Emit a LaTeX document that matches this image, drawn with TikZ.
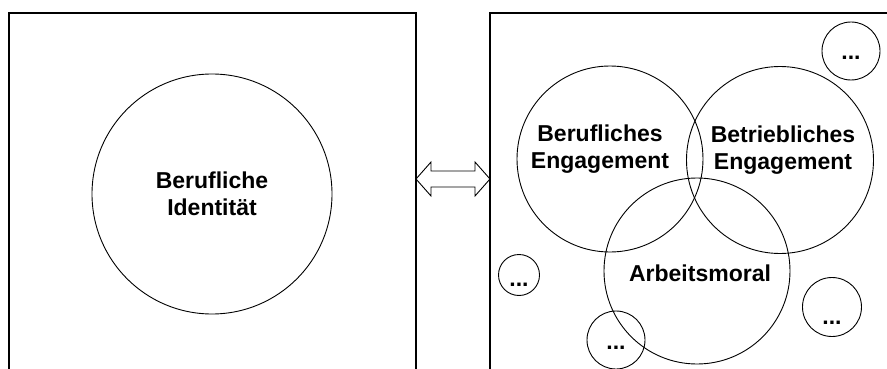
\documentclass[tikz,border=0pt]{standalone}
\usepackage{fontspec}
\setmainfont{Liberation Sans}
\begin{document}
\begin{tikzpicture}[x=1pt, y=-1pt, line width=0.9pt,
    big/.style={circle, draw, inner sep=0pt},
    small/.style={circle, draw, inner sep=0pt},
    word/.style={font=\fontsize{23}{27}\selectfont\bfseries, align=center, inner sep=0pt},
    dots/.style={font=\fontsize{23}{27}\selectfont\bfseries, inner sep=0pt, anchor=base}]
      \useasboundingbox (0,0) rectangle (887,369);

      % the two frames, open at the bottom
      \draw[line width=1.2pt] (9,369) -- (9,13) -- (416,13) -- (416,369);
      \draw[line width=1.2pt] (490,369) -- (490,13) -- (887,13);

      % double arrow between the frames
      \coordinate (lefttip) at (416,179);
      \coordinate (righttip) at (490,179);
      \draw (lefttip) -- ++(15,-17) -- ++(0,9) -- ++(44,0) -- ++(0,-9) -- (righttip)
            -- ++(-15,17) -- ++(0,-9) -- ++(-44,0) -- ++(0,9) -- cycle;

      \node[big, minimum size=240] (ident) at (212,194) {};
      \node[word] (identtext) at (ident.center) {Berufliche\\Identität};

      \node[big, minimum size=186] (beruf) at (610,159) {};
      \node[big, minimum size=187] (betrieb) at (780,160) {};
      \node[big, minimum size=186] (moral) at (697,271) {};
      \node[word] (beruftext) at ([shift={(-10,-10)}]beruf.center) {Berufliches\\Engagement};
      \node[word] (betriebtext) at ([shift={(3,-10)}]betrieb.center) {Betriebliches\\Engagement};
      \node[word] (moraltext) at ([shift={(3,2)}]moral.center) {Arbeitsmoral};

      \node[small, minimum size=58] (d1) at (851,51) {};
      \node[small, minimum size=41] (d2) at (519,275) {};
      \node[small, minimum size=58] (d3) at (616,340) {};
      \node[small, minimum size=59] (d4) at (832,307) {};
      \node[dots] (t1) at (851,60) {...};
      \node[dots] (t2) at (519,286) {...};
      \node[dots] (t3) at (616,349) {...};
      \node[dots] (t4) at (832,324) {...};
\end{tikzpicture}
\end{document}
